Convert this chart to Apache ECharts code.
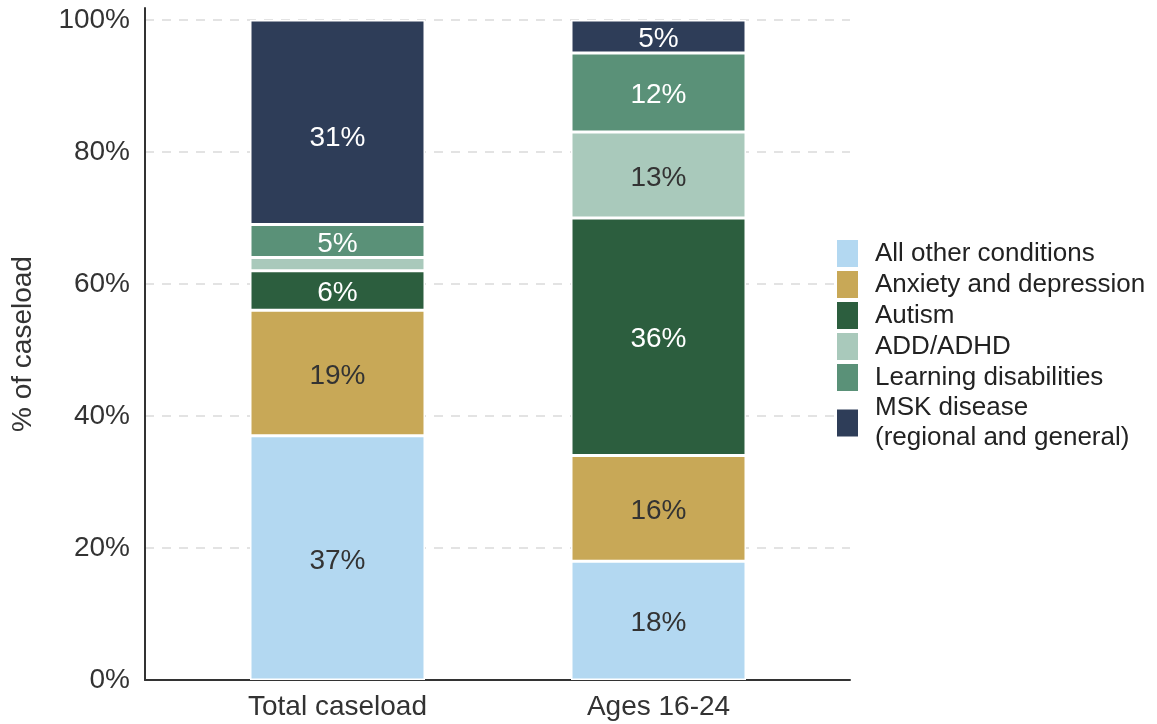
<!DOCTYPE html>
<html>
<head>
<meta charset="utf-8">
<script src="https://cdn.jsdelivr.net/npm/echarts@6/dist/echarts.min.js"></script>
<style>html,body{margin:0;padding:0;background:#fff;}#c{width:1157px;height:724px;}</style>
</head>
<body>
<div id="c"></div>
<script>
var categories = ['Total caseload', 'Ages 16-24'];
var seriesNames = ['All other conditions', 'Anxiety and depression', 'Autism', 'ADD/ADHD', 'Learning disabilities', 'MSK disease\n(regional and general)'];
var allOther = [37, 18];
var anxiety = [19, 16];
var autism = [6, 36];
var adhd = [2, 13];
var learning = [5, 12];
var msk = [31, 5];
var yTicks = [0, 20, 40, 60, 80, 100];

var colors = ['#b3d8f1', '#c8a857', '#2c5e3e', '#a9c9bb', '#5a9178', '#2e3d58'];
var labelColors = ['#333333', '#333333', '#ffffff', '#333333', '#ffffff', '#ffffff'];
var values = [allOther, anxiety, autism, adhd, learning, msk];
var FONT = "'Liberation Sans', Arial, sans-serif";
var YMAX = 101.8;

var series = values.map(function (arr, s) {
  return {
    name: seriesNames[s],
    type: 'bar',
    stack: 'total',
    xAxisIndex: 1,
    yAxisIndex: 1,
    barWidth: 175,
    itemStyle: { color: colors[s], borderColor: '#ffffff', borderWidth: 1.5 },
    label: {
      show: true,
      position: 'inside',
      offset: [0, 3],
      color: labelColors[s],
      fontFamily: FONT,
      fontSize: 28,
      formatter: function (p) { return p.value + '%'; }
    },
    data: arr.map(function (v) {
      var d = { value: v };
      if (v < 3) d.label = { show: false };
      return d;
    })
  };
});
// the large MSK label on the total bar sits a little below the segment centre in the original
series[5].data[0].label = { offset: [0, 16] };

var chart = echarts.init(document.getElementById('c'));
chart.setOption({
  animation: false,
  backgroundColor: '#ffffff',
  color: colors,
  grid: [
    { left: 145, right: 307, top: 8, bottom: 44, containLabel: false },
    { left: 177, right: 338, top: 8, bottom: 44, containLabel: false }
  ],
  legend: {
    orient: 'vertical',
    left: 835,
    top: 238,
    padding: 0,
    itemWidth: 23,
    itemHeight: 29,
    itemGap: 0,
    icon: 'rect',
    selectedMode: false,
    data: seriesNames,
    textStyle: { fontFamily: FONT, fontSize: 26, color: '#222222', padding: [0, 0, 0, 11], lineHeight: 30 }
  },
  xAxis: [
    {
      gridIndex: 0,
      type: 'value',
      min: 0,
      max: 1,
      splitLine: { show: false },
      axisTick: { show: false },
      axisLabel: { show: false },
      axisLine: { show: true, onZero: false, lineStyle: { color: '#333333', width: 2 } }
    },
    {
      gridIndex: 1,
      type: 'category',
      data: categories,
      axisLine: { show: false },
      axisTick: { show: false },
      axisLabel: { margin: 13, fontFamily: FONT, fontSize: 28, color: '#333333' }
    }
  ],
  yAxis: [
    {
      gridIndex: 0,
      type: 'value',
      min: 0,
      max: YMAX,
      interval: 20,
      name: '% of caseload',
      nameLocation: 'middle',
      nameRotate: 90,
      nameGap: 108,
      nameTextStyle: { fontFamily: FONT, fontSize: 28, color: '#333333' },
      axisLine: { show: true, lineStyle: { color: '#333333', width: 2 } },
      axisTick: { show: false },
      splitLine: { show: true, showMaxLine: false, showMinLine: false, lineStyle: { color: '#e3e3e3', width: 2, type: [9, 8] } },
      axisLabel: {
        customValues: yTicks,
        margin: 15,
        fontFamily: FONT,
        fontSize: 28,
        color: '#333333',
        formatter: function (v) { return yTicks.indexOf(v) >= 0 ? v + '%' : ''; }
      }
    },
    {
      gridIndex: 1,
      type: 'value',
      min: 0,
      max: YMAX,
      show: false,
      splitLine: { show: false }
    }
  ],
  series: series
});
</script>
</body>
</html>
